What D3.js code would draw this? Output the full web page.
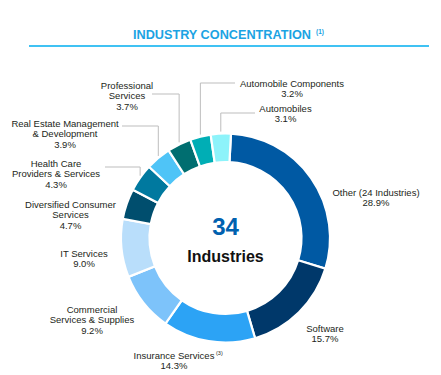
<!DOCTYPE html>
<html>
<head>
<meta charset="utf-8">
<script src="https://cdn.jsdelivr.net/npm/d3@7"></script>
<style>
  body { margin: 0; background: #fff; }
  svg { display: block; font-family: "Liberation Sans", Arial, sans-serif; }
</style>
</head>
<body>
<div id="chart"></div>
<script>
const industries = ["Other (24 Industries)", "Software", "Insurance Services", "Commercial Services & Supplies",
  "IT Services", "Diversified Consumer Services", "Health Care Providers & Services",
  "Real Estate Management & Development", "Professional Services", "Automobile Components", "Automobiles"];
const shares = [28.9, 15.7, 14.3, 9.2, 9.0, 4.7, 4.3, 3.9, 3.7, 3.2, 3.1];
const colors = ["#0059A3", "#00386A", "#2CA3F5", "#7DC3FA", "#B9DEFB", "#004E6E",
  "#00799F", "#4FC4F7", "#006E70", "#00AEB5", "#8DF3FA"];

// label layout: lines of text, anchor and optional elbow leader
const labelLayout = [
  { lines: ["Other (24 Industries)"], x: 376, y: 196 },
  { lines: ["Software"], x: 325, y: 332 },
  { lines: ["Insurance Services"], x: 174, y: 359, sup: "(3)" },
  { lines: ["Commercial", "Services & Supplies"], x: 92, y: 313 },
  { lines: ["IT Services"], x: 84, y: 257 },
  { lines: ["Diversified Consumer", "Services"], x: 70.5, y: 208 },
  { lines: ["Health Care", "Providers & Services"], x: 56, y: 167, leader: { y: 167, x2: 105 } },
  { lines: ["Real Estate Management", "& Development"], x: 65, y: 127, leader: { y: 126, x2: 122 } },
  { lines: ["Professional", "Services"], x: 127, y: 89, leader: { y: 94, x2: 152 } },
  { lines: ["Automobile Components"], x: 292, y: 86.5, leader: { y: 83, x2: 235 } },
  { lines: ["Automobiles"], x: 285.5, y: 112, leader: { y: 113, x2: 255 } }
];

const width = 441, height = 375;
const cx = 225.5, cy = 238, rOuter = 104.5, rInner = 76;
const offset = 3 * Math.PI / 180;

const svg = d3.select("#chart").append("svg")
  .attr("width", width)
  .attr("height", height);

// title
svg.append("text")
  .attr("x", 222).attr("y", 38.5)
  .attr("text-anchor", "middle")
  .attr("font-size", 12.7).attr("font-weight", "bold")
  .attr("fill", "#1BA3E3")
  .text("INDUSTRY CONCENTRATION");
svg.append("text")
  .attr("x", 316).attr("y", 34)
  .attr("font-size", 6.5).attr("font-weight", "bold")
  .attr("fill", "#1BA3E3")
  .text("(1)");
svg.append("line")
  .attr("x1", 29).attr("x2", 429)
  .attr("y1", 46).attr("y2", 46)
  .attr("stroke", "#00AEEF").attr("stroke-width", 1.3);

const data = industries.map((name, i) => ({ name, value: shares[i], color: colors[i], label: labelLayout[i] }));

const pie = d3.pie()
  .value(d => d.value)
  .sort(null)
  .startAngle(offset)
  .endAngle(offset + 2 * Math.PI);

const arc = d3.arc()
  .innerRadius(rInner)
  .outerRadius(rOuter);

const arcs = pie(data);

const g = svg.append("g").attr("transform", `translate(${cx},${cy})`);

g.selectAll("path.slice")
  .data(arcs)
  .enter().append("path")
  .attr("class", "slice")
  .attr("d", arc)
  .attr("fill", d => d.data.color)
  .attr("stroke", "#fff")
  .attr("stroke-width", 2.2);

// leader lines from outer edge of slice
svg.selectAll("path.leader")
  .data(arcs.filter(d => d.data.label.leader))
  .enter().append("path")
  .attr("class", "leader")
  .attr("fill", "none")
  .attr("stroke", "#BDBDBD")
  .attr("stroke-width", 1)
  .attr("d", d => {
    const a = (d.startAngle + d.endAngle) / 2;
    const x = cx + rOuter * Math.sin(a);
    const y = cy - rOuter * Math.cos(a) - 2;
    const L = d.data.label.leader;
    return `M${x},${y}V${L.y}H${L.x2}`;
  });

// labels
const lab = svg.selectAll("g.label")
  .data(arcs)
  .enter().append("g")
  .attr("class", "label");

lab.each(function(d) {
  const L = d.data.label;
  const t = d3.select(this).append("text")
    .attr("text-anchor", "middle")
    .attr("font-size", 9.5)
    .attr("fill", "#231F20");
  const lines = L.lines.concat([d3.format(".1f")(d.data.value) + "%"]);
  lines.forEach((s, i) => {
    t.append("tspan")
      .attr("x", L.x)
      .attr("y", L.y + i * 10.4)
      .text(s);
  });
  if (L.sup) {
    d3.select(this).append("text")
      .attr("x", 216).attr("y", L.y - 4)
      .attr("font-size", 5.5)
      .attr("fill", "#231F20")
      .text(L.sup);
  }
});

// center text
svg.append("text")
  .attr("x", cx).attr("y", 235)
  .attr("text-anchor", "middle")
  .attr("font-size", 24).attr("font-weight", "bold")
  .attr("fill", "#0061AF")
  .text("34");
svg.append("text")
  .attr("x", cx).attr("y", 262)
  .attr("text-anchor", "middle")
  .attr("font-size", 16).attr("font-weight", "bold")
  .attr("fill", "#111")
  .text("Industries");
</script>
</body>
</html>
